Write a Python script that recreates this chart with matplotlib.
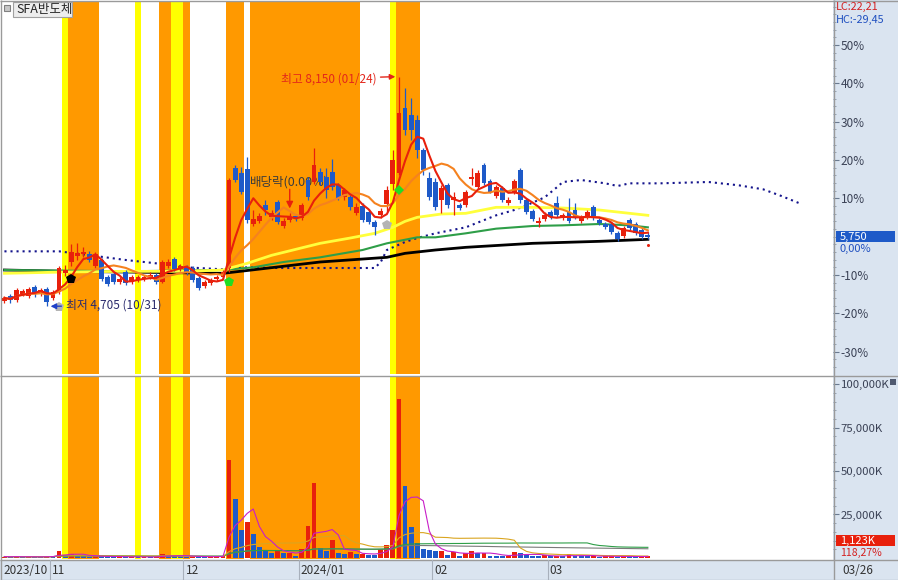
"""SFA반도체 daily chart (2023/10 - 2024/03) with volume panel, in the HTS style."""

import numpy as np
import pandas as pd
import matplotlib
matplotlib.use("Agg")
import matplotlib.pyplot as plt
from matplotlib import transforms
from matplotlib.patches import Rectangle

plt.rcParams['font.family'] = ['Noto Sans CJK KR', 'DejaVu Sans']
plt.rcParams['font.size'] = 8.5

# ============================================================================
# DATA  (one row per trading day, price in KRW, volume in thousand shares)
# ============================================================================
stock_name = 'SFA반도체'

opens = [4780, 4860, 4800, 4890, 4860, 4990, 4890, 4960, 4830, 4920,
         5200, 5370, 5460, 5490, 5490, 5310, 5400, 5140, 5190, 5070,
         5220, 5070, 5100, 5110, 5140, 5170, 5070, 5310, 5410, 5260,
         5290, 5280, 5130, 5010, 5050, 5110, 5140, 5280, 6780, 6700,
         6760, 5940, 5980, 6220, 6040, 6270, 5910, 6000, 6060, 6030,
         6600, 6570, 6720, 6640, 6720, 6520, 6340, 6340, 6100, 6210,
         6120, 5970, 6070, 6240, 6540, 6700, 7680, 7570, 7500, 7050,
         6630, 6570, 6300, 6520, 6300, 6220, 6220, 6610, 6490, 6820,
         6580, 6360, 6480, 6250, 6420, 6750, 6300, 6130, 5950, 6010,
         6120, 6250, 6030, 6120, 6150, 5980, 6040, 6190, 6000, 5940,
         5940, 5800, 5760, 6000, 5940, 5850, 5770]
highs = [4860, 4890, 4980, 4960, 4990, 5020, 4980, 4990, 4950, 5310,
         5320, 5640, 5650, 5590, 5530, 5520, 5430, 5170, 5220, 5140,
         5250, 5170, 5170, 5170, 5220, 5200, 5400, 5410, 5440, 5340,
         5320, 5310, 5160, 5100, 5130, 5170, 5250, 6630, 6820, 6790,
         6940, 6150, 6100, 6300, 6150, 6300, 6030, 6100, 6090, 6250,
         6640, 7080, 6780, 6780, 6910, 6550, 6480, 6370, 6250, 6250,
         6160, 6000, 6180, 6510, 7050, 8150, 7980, 7830, 7570, 7080,
         6720, 6630, 6520, 6550, 6420, 6250, 6450, 6780, 6750, 6850,
         6610, 6520, 6510, 6340, 6610, 6780, 6330, 6160, 6040, 6120,
         6150, 6360, 6100, 6330, 6250, 6070, 6150, 6220, 6030, 5970,
         5970, 5830, 5910, 6030, 5970, 5880, 5820]
lows = [4750, 4750, 4770, 4860, 4830, 4840, 4860, 4705, 4800, 4890,
        5160, 5310, 5400, 5440, 5370, 5280, 5080, 5010, 5040, 5040,
        5020, 5040, 5070, 5080, 5110, 5040, 5050, 5280, 5230, 5230,
        5170, 5070, 4950, 4980, 5020, 5080, 5110, 5220, 6570, 6390,
        5950, 5910, 5950, 6070, 6000, 5940, 5880, 5970, 5980, 6000,
        6300, 6540, 6520, 6330, 6450, 6300, 6300, 6150, 6070, 5970,
        5940, 5770, 6030, 6120, 6450, 6670, 7270, 7200, 6930, 6670,
        6300, 6150, 6100, 6180, 6070, 6150, 6190, 6520, 6460, 6520,
        6400, 6330, 6270, 6220, 6390, 6250, 6090, 5980, 5890, 5980,
        6010, 6040, 6000, 5950, 6010, 5950, 6010, 6000, 5920, 5860,
        5790, 5680, 5730, 5850, 5770, 5710, 5710]
closes = [4830, 4800, 4950, 4930, 4960, 4890, 4950, 4770, 4920, 5280,
          5250, 5520, 5500, 5520, 5400, 5490, 5110, 5040, 5070, 5110,
          5050, 5140, 5140, 5140, 5170, 5070, 5370, 5370, 5260, 5310,
          5200, 5100, 4980, 5070, 5100, 5140, 5220, 6600, 6600, 6420,
          6000, 6010, 6060, 6150, 6100, 5970, 5980, 6040, 6030, 6220,
          6340, 6820, 6570, 6450, 6490, 6330, 6450, 6190, 6190, 6000,
          5970, 5890, 6130, 6450, 6900, 7600, 7350, 7350, 7050, 6750,
          6340, 6190, 6480, 6220, 6340, 6180, 6420, 6640, 6700, 6550,
          6400, 6490, 6300, 6300, 6580, 6300, 6120, 6010, 5980, 6070,
          6040, 6070, 6070, 5980, 6040, 6040, 6120, 6030, 5950, 5890,
          5820, 5710, 5880, 5880, 5800, 5740, 5750]
volumes = [800, 600, 900, 500, 700, 600, 500, 1200, 900, 4200,
           1800, 2500, 1300, 900, 800, 1100, 1000, 700, 600, 700,
           600, 700, 500, 600, 500, 700, 2300, 1500, 1200, 900,
           700, 900, 800, 600, 700, 800, 1300, 56300, 33900, 16100,
           20700, 13800, 6300, 4600, 2800, 4000, 2900, 3000, 1300, 5200,
           18400, 43100, 5800, 4000, 10400, 2900, 2300, 3400, 2300, 2400,
           1700, 1600, 5200, 7500, 16100, 91400, 41400, 17800, 8600, 5200,
           4600, 4000, 4200, 1700, 3400, 1200, 2900, 4000, 2900, 3000,
           1200, 1000, 900, 1000, 3400, 2900, 1700, 1200, 1000, 1700,
           900, 1000, 900, 2300, 1300, 1100, 1000, 1200, 800, 900,
           1000, 800, 900, 800, 700, 950, 1123]

# long moving averages (bar index -> price)
ma_yellow_idx = [0, 10, 20, 30, 36, 40, 44, 52, 57, 61, 64, 66, 68, 72, 76, 81, 87, 92, 98, 103, 106]
ma_yellow = [5200, 5220, 5230, 5230, 5250, 5350, 5470, 5650, 5730, 5800, 5890,
             5980, 6040, 6090, 6100, 6190, 6190, 6180, 6150, 6100, 6070]
ma_green_idx = [0, 20, 36, 41, 46, 52, 59, 63, 68, 71, 76, 81, 87, 92, 98, 103, 106]
ma_green = [5250, 5230, 5250, 5290, 5370, 5440, 5550, 5650, 5740, 5740, 5800,
            5870, 5910, 5920, 5940, 5920, 5890]
ma_black_idx = [0, 10, 20, 36, 52, 63, 66, 71, 76, 87, 98, 106]
ma_black = [5250, 5230, 5220, 5200, 5370, 5440, 5500, 5550, 5590, 5650, 5680, 5710]

# leading span (dotted), runs past the last bar
span_idx = [0, 9, 15, 20, 25, 30, 36, 40, 45, 61, 62, 63, 66, 68, 71, 76, 81, 84,
            86, 89, 91, 92, 95, 99, 101, 103, 108, 116, 121, 125, 128, 131]
span = [5530, 5530, 5460, 5400, 5350, 5290, 5260, 5290, 5280, 5280, 5370, 5550,
        5670, 5730, 5800, 5890, 6070, 6150, 6220, 6340, 6490, 6570, 6600, 6550,
        6510, 6550, 6550, 6570, 6520, 6460, 6360, 6250]

# signal periods shaded behind the chart (first bar, last bar)
orange_bands = [(11, 15), (26, 27), (30, 30), (37, 39), (41, 58), (65, 68)]
yellow_bands = [(10, 10), (22, 22), (28, 29), (64, 64)]

# signal markers under the candles
signal_idx = [9, 11, 37, 63, 65, 106]
signal_kind = ['gray', 'black', 'green', 'gray', 'diamond', 'dot']

dividend_idx = 47
dividend_label = '배당락(0.00%)'
hi_date = '01/24'
lo_date = '10/31'

month_labels = ['2023/10', '11', '12', '2024/01', '02', '03']
month_start = [0, 8, 30, 49, 71, 90]
last_date = '03/26'
vol_ratio_label = '118,27%'

pct_ticks = [-30, -20, -10, 10, 20, 30, 40, 50]
vol_ticks = [25000, 50000, 75000, 100000]

# ============================================================================
# STYLE / LAYOUT
# ============================================================================
W, H = 898, 580
RED = '#E8200C'
BLUE = '#1E5AC8'
ORANGE = '#FF9900'
YELLOW = '#FFFF00'
PANEL = '#DAE4F0'
BORDER = '#9A9A9A'
TXT = '#3B4256'

SIGNAL_STYLE = {
    'gray': dict(marker='p', color='#B4B4B4', ms=7, dy=13),
    'black': dict(marker='p', color='#000000', ms=7, dy=13),
    'green': dict(marker='p', color='#22DD22', ms=7, dy=10),
    'diamond': dict(marker='D', color='#22DD22', ms=5.5, dy=15),
    'dot': dict(marker='o', color=RED, ms=2.2, dy=6),
}


def box(x0, y0, x1, y1):
    return [x0 / W, 1 - y1 / H, (x1 - x0) / W, (y1 - y0) / H]


def comma(v, nd=2):
    return f'{v:.{nd}f}'.replace('.', ',')


o = np.array(opens, float)
h = np.array(highs, float)
l = np.array(lows, float)
c = np.array(closes, float)
vol = np.array(volumes, float)
n = len(c)
x = np.arange(n)
base = closes[-1]

fig = plt.figure(figsize=(W / 100, H / 100), dpi=100)
fig.patch.set_facecolor('white')

# background panels (right scale column, date strip)
bg = fig.add_axes([0, 0, 1, 1], zorder=-1)
bg.set_xlim(0, W)
bg.set_ylim(H, 0)
bg.set_axis_off()
bg.add_patch(Rectangle((833, 0), W - 833, H, color=PANEL, lw=0))
bg.add_patch(Rectangle((0, 560), W, 20, color=PANEL, lw=0))

ax_p = fig.add_axes(box(2, 2, 833, 374), zorder=1)
ax_v = fig.add_axes(box(2, 377, 833, 559), sharex=ax_p, zorder=1)
for ax in (ax_p, ax_v):
    ax.set_facecolor('none')
    for sp in ax.spines.values():
        sp.set_visible(False)
    ax.tick_params(axis='x', bottom=False, labelbottom=False)
    for a, b in orange_bands:
        ax.axvspan(a - 0.5, b + 0.5, color=ORANGE, lw=0, zorder=0)
    for a, b in yellow_bands:
        ax.axvspan(a - 0.5, b + 0.5, color=YELLOW, lw=0, zorder=0)

ax_p.set_xlim(-0.4, 136.5)
ax_p.set_ylim(3690, 9270)
ax_v.set_ylim(-600, 104100)

# ============================================================================
# PRICE PANEL
# ============================================================================
ax_p.plot(span_idx, span, color='#14148C', lw=1.5,
          linestyle=(0, (1, 1.9)), dash_capstyle='butt', zorder=2)
ax_p.plot(ma_black_idx, ma_black, color='black', lw=2, zorder=2)
ax_p.plot(ma_green_idx, ma_green, color='#2E9E48', lw=1.5, zorder=2)
ax_p.plot(ma_yellow_idx, ma_yellow, color='#FFFF3C', lw=2, zorder=2)

ax_p.annotate(dividend_label, xy=(dividend_idx, h[dividend_idx]), xytext=(-40, 31),
              textcoords='offset pixels', ha='left', va='center',
              color='#3C3C3C', fontsize=9, zorder=1)

up = c >= o
cc = np.where(up, RED, BLUE)
ax_p.vlines(x, l, h, colors=cc, lw=0.9, zorder=4)
ax_p.bar(x, np.maximum(np.abs(c - o), 14), bottom=np.minimum(o, c),
         width=0.8, color=cc, lw=0, zorder=4)

ma5 = pd.Series(c).rolling(5, min_periods=1).mean()
ma10 = pd.Series(c).rolling(10, min_periods=1).mean()
ax_p.plot(x, ma10, color='#F5821F', lw=1.5, zorder=5)
ax_p.plot(x, ma5, color=RED, lw=1.5, zorder=5)

for idx, kind in zip(signal_idx, signal_kind):
    st = SIGNAL_STYLE[kind]
    tr = transforms.offset_copy(ax_p.transData, fig=fig, y=-st['dy'], units='dots')
    ax_p.plot(idx, l[idx], marker=st['marker'], color=st['color'], ms=st['ms'],
              mew=0, transform=tr, zorder=6)

ax_p.annotate('', xy=(dividend_idx, h[dividend_idx]), xytext=(0, 24),
              textcoords='offset pixels',
              arrowprops=dict(arrowstyle='-|>', color=RED, lw=1,
                              mutation_scale=10, shrinkA=0, shrinkB=3.5), zorder=6)

hi = int(np.argmax(h))
lo = int(np.argmin(l))
ax_p.annotate(f'최고 {highs[hi]:,} ({hi_date})', xy=(hi - 0.6, h[hi]), xytext=(-19, -2),
              textcoords='offset pixels', ha='right', va='center', color='#E3261B',
              arrowprops=dict(arrowstyle='-|>', color='#E3261B', lw=1,
                              mutation_scale=8, shrinkA=1, shrinkB=0), zorder=7)
ax_p.annotate(f'최저 {lows[lo]:,} ({lo_date})', xy=(lo + 0.6, l[lo]), xytext=(15, 1),
              textcoords='offset pixels', ha='left', va='center', color='#2B2B6E',
              arrowprops=dict(arrowstyle='-|>', color='#2040C8', lw=1,
                              mutation_scale=8, shrinkA=1, shrinkB=0), zorder=7)

ax_p.yaxis.tick_right()
ax_p.set_yticks([base * (1 + p / 100) for p in pct_ticks])
ax_p.set_yticklabels([f'{p}%' for p in pct_ticks])
ax_p.set_yticks([base * (1 + p / 100) for p in range(-34, 62, 2)], minor=True)
ax_p.tick_params(axis='y', which='major', direction='out', length=4, width=0.8,
                 color='#6A7A90', pad=1.5, labelsize=8.5, labelcolor=TXT)
ax_p.tick_params(axis='y', which='minor', direction='out', length=2, width=0.6,
                 color='#8A98AA')

# ============================================================================
# VOLUME PANEL
# ============================================================================
vcol = [RED if i == 0 or vol[i] >= vol[i - 1] else BLUE for i in range(n)]
ax_v.bar(x, vol, width=0.8, color=vcol, lw=0, zorder=3)
vs = pd.Series(vol)
for win, col in [(120, '#7A7A7A'), (60, '#2E9E48'), (20, '#DAA520'), (5, '#C81EC8')]:
    ax_v.plot(x, vs.rolling(win, min_periods=1).mean(), color=col, lw=0.8, zorder=4)

ax_v.yaxis.tick_right()
ax_v.set_yticks(vol_ticks)
ax_v.set_yticklabels([f'{v:,}K' for v in vol_ticks])
ax_v.set_yticks(np.arange(5000, 104000, 5000), minor=True)
ax_v.tick_params(axis='y', which='major', direction='out', length=4, width=0.8,
                 color='#6A7A90', pad=1.5, labelsize=8.2, labelcolor=TXT)
ax_v.tick_params(axis='y', which='minor', direction='out', length=2, width=0.6,
                 color='#8A98AA')

# ============================================================================
# OVERLAY: frame lines, labels, value boxes, date strip
# ============================================================================
ov = fig.add_axes([0, 0, 1, 1], zorder=5)
ov.set_xlim(0, W)
ov.set_ylim(H, 0)
ov.set_axis_off()

for xs, ys, col in [([0, W], [0.5, 0.5], BORDER), ([0.5, 0.5], [0, H], BORDER),
                    ([0, W], [375.5, 375.5], BORDER), ([0, W], [559.5, 559.5], BORDER),
                    ([833.5, 833.5], [0, H], BORDER), ([0, W], [579.5, 579.5], '#B0B8C4')]:
    ov.plot(xs, ys, color=col, lw=1, solid_capstyle='butt')

# stock name tag
ov.add_patch(Rectangle((4, 5), 6, 6, facecolor='#C8C8C8', edgecolor='#808080', lw=0.8))
ov.add_patch(Rectangle((13, 2), 59, 15, facecolor='#EDEDED', edgecolor='#A0A0A0', lw=0.8))
ov.text(16, 9.5, stock_name, ha='left', va='center', fontsize=9, color='#222222')

# LC / HC
lc = (base / min(lows) - 1) * 100
hc = (base / max(highs) - 1) * 100
ov.text(836, 7, f'LC:{comma(lc)}', ha='left', va='center', color='#D42020', fontsize=7.8)
ov.text(836, 19.5, f'HC:{comma(hc)}', ha='left', va='center', color='#2050C0', fontsize=7.8)

# last price box
py = H - ax_p.transData.transform((0, base))[1]
ov.add_patch(Rectangle((836, py - 5.5), 59, 11, color=BLUE, lw=0))
ov.text(840, py, f'{closes[-1]:,}', ha='left', va='center', color='white', fontsize=8)
ov.text(840, py + 12, f'{comma((closes[-1] / base - 1) * 100)}%', ha='left',
        va='center', color='#2050C0', fontsize=8)

# last volume box
ov.add_patch(Rectangle((836, 535), 59, 11, color=RED, lw=0))
ov.text(840, 540.5, f'{volumes[-1]:,}K', ha='left', va='center', color='white', fontsize=8)
ov.text(840, 553, vol_ratio_label, ha='left', va='center', color='#D42020', fontsize=7.6)
ov.add_patch(Rectangle((890, 379), 6, 6, facecolor='#505A70', lw=0))

# date strip
bt = transforms.blended_transform_factory(ax_p.transData, ov.transData)
bt_txt = transforms.offset_copy(bt, fig=fig, x=2, units='dots')
for lab, idx in zip(month_labels, month_start):
    if idx > 0:
        ov.plot([idx - 0.5, idx - 0.5], [560, 580], color='#A8B0BC', lw=0.8,
                transform=bt)
    ov.text(idx - 0.5, 570, lab, transform=bt_txt, ha='left', va='center',
            color='#333333', fontsize=8.5)
ov.text(842, 570, last_date, ha='left', va='center', color='#333333', fontsize=8.5)

fig.savefig('out.png', dpi=100)
